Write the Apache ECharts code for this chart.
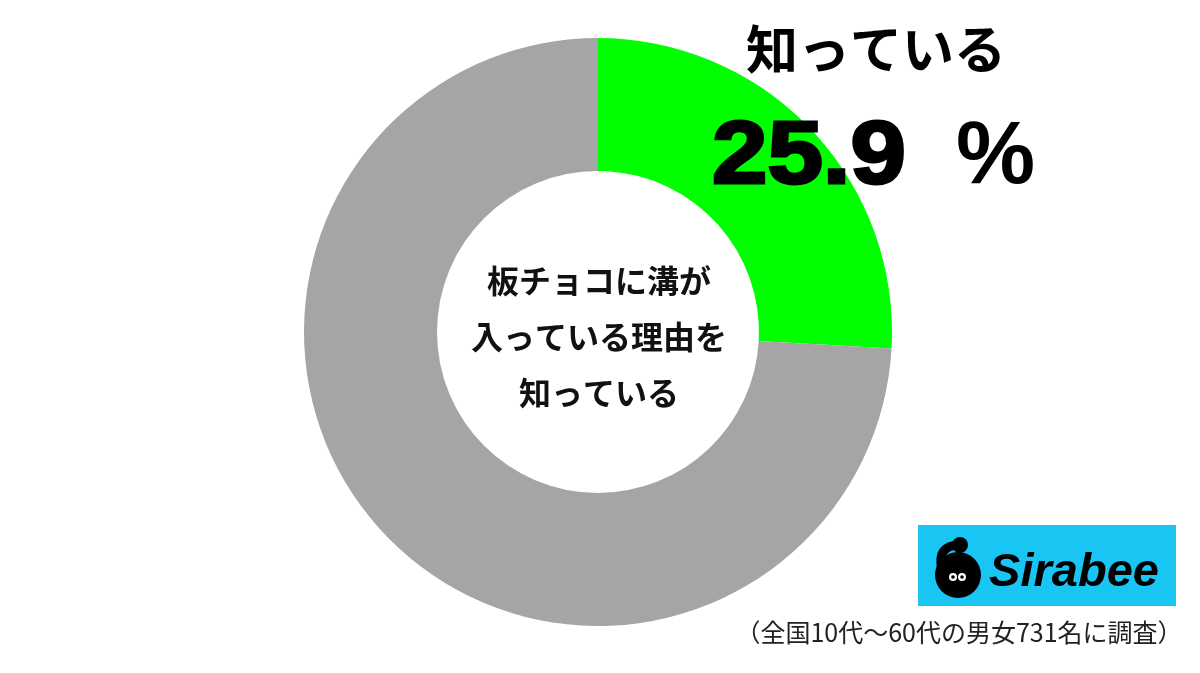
<!DOCTYPE html>
<html>
<head>
<meta charset="utf-8">
<script src="https://cdn.jsdelivr.net/npm/echarts@6/dist/echarts.min.js"></script>
<style>
html,body{margin:0;padding:0;background:#fff;}
#main{width:1200px;height:673px;}
</style>
</head>
<body>
<div id="main"></div>
<script>
const categories = ['知っている', '知らない'];
const values = [25.9, 74.1];
const colors = ['#00FF00', '#A5A5A5'];
const centerLines = ['板チョコに溝が', '入っている理由を', '知っている'];
const footnote = '（全国10代～60代の男女731名に調査）';
const brand = 'Sirabee';

const chart = echarts.init(document.getElementById('main'));
const jp = '"Noto Sans CJK JP", "Noto Sans", sans-serif';

chart.setOption({
  backgroundColor: '#ffffff',
  animation: false,
  series: [{
    type: 'pie',
    center: [598, 332],
    radius: [161, 294],
    startAngle: 90,
    clockwise: true,
    silent: true,
    z: 1,
    label: { show: false },
    labelLine: { show: false },
    itemStyle: { borderWidth: 0 },
    data: categories.map((c, i) => ({ name: c, value: values[i], itemStyle: { color: colors[i] } }))
  }],
  graphic: [
    {
      type: 'text', z: 100,
      style: {
        text: centerLines.join('\n'),
        x: 599, y: 337,
        align: 'center', verticalAlign: 'middle',
        font: 'bold 32px ' + jp,
        lineHeight: 56,
        fill: '#111'
      }
    },
    {
      type: 'text', z: 100,
      style: {
        text: categories[0],
        x: 876, y: 49,
        align: 'center', verticalAlign: 'middle',
        font: 'bold 52px ' + jp,
        fill: '#000'
      }
    },
    {
      type: 'text', z: 100,
      x: 712, y: 158,
      scaleX: 1.12,
      style: {
        text: String(values[0]),
        x: 0, y: 0,
        align: 'left', verticalAlign: 'middle',
        font: 'bold 89px "Liberation Sans", Arial, sans-serif',
        fill: '#000',
        stroke: '#000',
        lineWidth: 3
      }
    },
    {
      type: 'text', z: 100,
      x: 956, y: 158,
      style: {
        text: '%',
        x: 0, y: 0,
        align: 'left', verticalAlign: 'middle',
        font: 'bold 89px "Liberation Sans", Arial, sans-serif',
        fill: '#000'
      }
    },
    {
      type: 'rect', z: 100,
      shape: { x: 918, y: 525, width: 258, height: 81 },
      style: { fill: '#19C5F3' }
    },
    {
      type: 'bezierCurve', z: 101,
      shape: { x1: 960, y1: 545, cpx1: 936, cpy1: 545, x2: 942, y2: 570 },
      style: { stroke: '#000', lineWidth: 9, fill: null, lineCap: 'round' }
    },
    { type: 'circle', z: 101, shape: { cx: 960, cy: 545, r: 8 }, style: { fill: '#000' } },
    { type: 'circle', z: 101, shape: { cx: 958, cy: 575, r: 23 }, style: { fill: '#000' } },
    { type: 'circle', z: 102, shape: { cx: 953, cy: 577, r: 4 }, style: { fill: '#fff' } },
    { type: 'circle', z: 102, shape: { cx: 962, cy: 577, r: 4 }, style: { fill: '#fff' } },
    { type: 'circle', z: 103, shape: { cx: 953, cy: 577, r: 1.8 }, style: { fill: '#000' } },
    { type: 'circle', z: 103, shape: { cx: 962, cy: 577, r: 1.8 }, style: { fill: '#000' } },
    {
      type: 'text', z: 101,
      style: {
        text: brand,
        x: 1074, y: 573,
        align: 'center', verticalAlign: 'middle',
        font: 'italic bold 47px "Liberation Sans", Arial, sans-serif',
        fill: '#000'
      }
    },
    {
      type: 'text', z: 100,
      style: {
        text: footnote,
        x: 959, y: 632,
        align: 'center', verticalAlign: 'middle',
        font: '25px ' + jp,
        fill: '#222'
      }
    }
  ]
});
</script>
</body>
</html>
